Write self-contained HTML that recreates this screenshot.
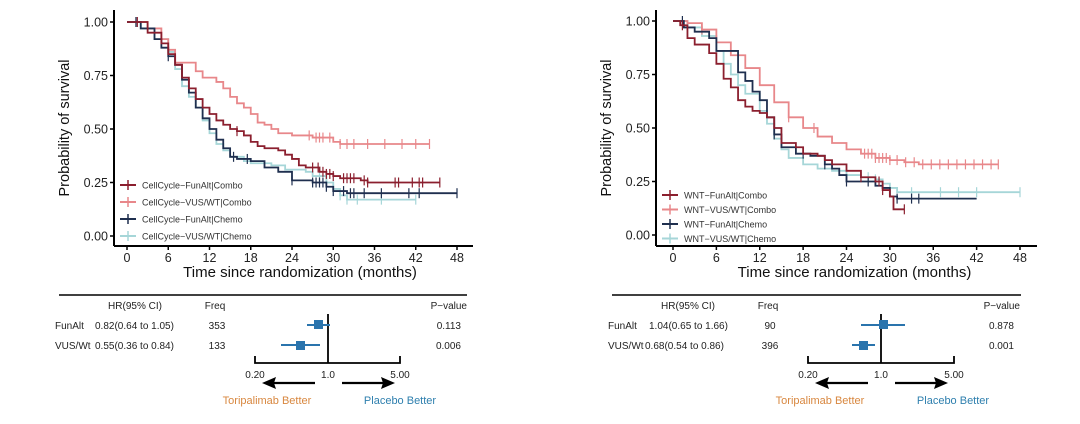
<!DOCTYPE html>
<html><head><meta charset="utf-8"><style>
html,body{margin:0;padding:0;background:#fff;}
svg{display:block;font-family:"Liberation Sans",Arial,sans-serif;}
</style></head><body>
<svg id="s" width="1080" height="424" viewBox="0 0 1080 424" xmlns="http://www.w3.org/2000/svg">
<rect width="1080" height="424" fill="#fff"/>
<g id="g"></g>
<g font-size="10" fill="#222">
<line x1="59" y1="295" x2="467" y2="295" stroke="#000" stroke-width="1.6"/>
<text x="135" y="309" text-anchor="middle">HR(95% CI)</text>
<text x="215" y="309" text-anchor="middle">Freq</text>
<text x="467" y="309" text-anchor="end">P−value</text>
<text x="55" y="329">FunAlt</text><text x="95" y="329">0.82(0.64 to 1.05)</text>
<text x="217" y="329" text-anchor="middle">353</text><text x="461" y="329" text-anchor="end">0.113</text>
<text x="55" y="349">VUS/Wt</text><text x="95" y="349">0.55(0.36 to 0.84)</text>
<text x="217" y="349" text-anchor="middle">133</text><text x="461" y="349" text-anchor="end">0.006</text>
<line x1="328" y1="314" x2="328" y2="363" stroke="#000" stroke-width="1.8"/>
<path d="M255,356V363H400V356" fill="none" stroke="#000" stroke-width="1.8"/>
<line x1="307" y1="325" x2="330" y2="325" stroke="#2a74ad" stroke-width="2"/>
<rect x="314" y="320" width="9" height="9" fill="#2a74ad"/>
<line x1="281" y1="345" x2="320" y2="345" stroke="#2a74ad" stroke-width="2"/>
<rect x="296" y="341" width="9" height="9" fill="#2a74ad"/>
<text x="255" y="378" text-anchor="middle">0.20</text>
<text x="328" y="378" text-anchor="middle">1.0</text>
<text x="400" y="378" text-anchor="middle">5.00</text>
<line x1="315" y1="383" x2="272" y2="383" stroke="#000" stroke-width="2.2"/><path d="M262,383L276,377L274,383L276,389Z" fill="#000"/>
<line x1="342" y1="383" x2="385" y2="383" stroke="#000" stroke-width="2.2"/><path d="M395,383L381,377L383,383L381,389Z" fill="#000"/>
<text x="267" y="404" text-anchor="middle" font-size="11" fill="#d8873f">Toripalimab Better</text>
<text x="400" y="404" text-anchor="middle" font-size="11" fill="#2e7fae">Placebo Better</text>
</g>
<g font-size="10" fill="#222">
<line x1="612" y1="295" x2="1021" y2="295" stroke="#000" stroke-width="1.6"/>
<text x="688" y="309" text-anchor="middle">HR(95% CI)</text>
<text x="768" y="309" text-anchor="middle">Freq</text>
<text x="1020" y="309" text-anchor="end">P−value</text>
<text x="608" y="329">FunAlt</text><text x="649" y="329">1.04(0.65 to 1.66)</text>
<text x="770" y="329" text-anchor="middle">90</text><text x="1014" y="329" text-anchor="end">0.878</text>
<text x="608" y="349">VUS/Wt</text><text x="645" y="349">0.68(0.54 to 0.86)</text>
<text x="770" y="349" text-anchor="middle">396</text><text x="1014" y="349" text-anchor="end">0.001</text>
<line x1="881" y1="314" x2="881" y2="363" stroke="#000" stroke-width="1.8"/>
<path d="M808,356V363H954V356" fill="none" stroke="#000" stroke-width="1.8"/>
<line x1="861" y1="325" x2="905" y2="325" stroke="#2a74ad" stroke-width="2"/>
<rect x="879" y="320" width="9" height="9" fill="#2a74ad"/>
<line x1="852" y1="345" x2="875" y2="345" stroke="#2a74ad" stroke-width="2"/>
<rect x="859" y="341" width="9" height="9" fill="#2a74ad"/>
<text x="808" y="378" text-anchor="middle">0.20</text>
<text x="881" y="378" text-anchor="middle">1.0</text>
<text x="954" y="378" text-anchor="middle">5.00</text>
<line x1="868" y1="383" x2="825" y2="383" stroke="#000" stroke-width="2.2"/><path d="M815,383L829,377L827,383L829,389Z" fill="#000"/>
<line x1="895" y1="383" x2="938" y2="383" stroke="#000" stroke-width="2.2"/><path d="M948,383L934,377L936,383L934,389Z" fill="#000"/>
<text x="820" y="404" text-anchor="middle" font-size="11" fill="#d8873f">Toripalimab Better</text>
<text x="953" y="404" text-anchor="middle" font-size="11" fill="#2e7fae">Placebo Better</text>
</g>
</svg>
<script>
var NS="http://www.w3.org/2000/svg",G=document.getElementById("g");
function el(t,a,txt){var e=document.createElementNS(NS,t);for(var k in a)e.setAttribute(k,a[k]);if(txt!=null)e.textContent=txt;G.appendChild(e);return e;}
var C=["#8b1f2e","#e8878a","#1f2f4f","#a6d6d8"];
function plot(o){
 var X=function(t){return o.x0+t*(o.x48-o.x0)/48},Y=function(s){return o.y0-s*(o.y0-o.y1)};
 [3,1,2,0].forEach(function(i){
  var p=o.c[i],d="M"+X(p[0][0])+","+Y(p[0][1]);
  for(var j=1;j<p.length;j++){d+="H"+X(p[j][0])+"V"+Y(p[j][1]);}
  el("path",{d:d,fill:"none",stroke:C[i],"stroke-width":1.8});
  o.k[i].forEach(function(t){var s=1;for(var j=0;j<p.length;j++){if(p[j][0]<=t)s=p[j][1];}
   el("line",{x1:X(t),x2:X(t),y1:Y(s)-5,y2:Y(s)+5,stroke:C[i],"stroke-width":1.2});});
 });
 el("line",{x1:o.ax,y1:10,x2:o.ax,y2:o.by,stroke:"#000","stroke-width":2});
 el("line",{x1:o.ax,y1:o.by,x2:o.bx,y2:o.by,stroke:"#000","stroke-width":2});
 [0,.25,.5,.75,1].forEach(function(v){el("line",{x1:o.ax-4,x2:o.ax,y1:Y(v),y2:Y(v),stroke:"#000","stroke-width":1.5});
  el("text",{x:o.ax-6,y:Y(v)+4.5,"text-anchor":"end","font-size":12.5,fill:"#222"},v.toFixed(2));});
 for(var t=0;t<=48;t+=6){el("line",{x1:X(t),x2:X(t),y1:o.by,y2:o.by+4,stroke:"#000","stroke-width":1.5});
  el("text",{x:X(t),y:o.by+16,"text-anchor":"middle","font-size":12.5,fill:"#222"},t);}
 el("text",{x:(o.x0+o.x48)/2+8,y:o.by+31,"text-anchor":"middle","font-size":15,fill:"#111"},"Time since randomization (months)");
 el("text",{x:0,y:0,transform:"translate("+(o.ax-45)+",128) rotate(-90)","text-anchor":"middle","font-size":14.5,fill:"#111"},"Probability of survival");
 o.L.forEach(function(n,i){var y=o.ly+i*o.ls;
  el("line",{x1:o.ax+6,x2:o.ax+22,y1:y,y2:y,stroke:C[i],"stroke-width":2});
  el("line",{x1:o.ax+14,x2:o.ax+14,y1:y-5,y2:y+5,stroke:C[i],"stroke-width":1.5});
  el("text",{x:o.ax+28,y:y+3.5,"font-size":9,fill:"#333"},n);});
}
function rng(a,b,n){var r=[];for(var i=0;i<n;i++)r.push(a+(b-a)*i/(n-1));return r;}
plot({ax:114,by:246,bx:473,x0:127,x48:457,y1:22,y0:236,ly:185,ls:17,
 L:["CellCycle−FunAlt|Combo","CellCycle−VUS/WT|Combo","CellCycle−FunAlt|Chemo","CellCycle−VUS/WT|Chemo"],
 c:[
 [[0,1],[1,1],[3,.95],[5,.9],[6,.85],[7,.8],[8,.74],[9,.69],[10,.64],[11,.6],[12,.57],[13,.54],[14,.52],[15,.5],[16,.49],[17,.47],[18,.44],[19,.42],[20,.41],[22,.4],[23,.38],[24,.36],[25,.33],[26,.32],[28,.3],[29,.29],[30,.28],[31,.27],[34,.26],[35,.25],[45.5,.25]],
 [[0,1],[2,1],[3,.97],[5,.92],[6,.87],[7,.81],[9,.81],[10,.77],[11,.74],[13,.72],[14,.69],[15,.65],[16,.62],[17,.6],[18,.57],[19,.53],[20,.52],[21,.5],[22,.48],[24,.47],[27,.46],[30,.44],[31,.43],[44,.43]],
 [[0,1],[2,.97],[4,.92],[5,.88],[6,.84],[7,.8],[8,.73],[9,.67],[10,.6],[11,.55],[12,.5],[13,.45],[14,.41],[15,.37],[16,.36],[18,.35],[20,.32],[22,.3],[24,.26],[27,.25],[29,.23],[30,.21],[32,.2],[48,.2]],
 [[0,1],[2,.97],[4,.92],[6,.86],[7,.78],[8,.7],[9,.65],[10,.6],[11,.54],[12,.48],[13,.43],[14,.4],[15,.37],[17,.35],[18,.34],[21,.33],[23,.31],[26,.3],[27,.28],[29,.25],[30,.22],[31,.19],[32,.17],[37,.17],[42,.17]]],
 k:[[1.5,16,27,27.8,28.5,29,29.5,30,31.5,32,32.5,33,34.5,35,39,39.5,41.5,42.5,43,45.5],[26.5,27.5,28,28.5,29.5,31,32,33,35,37.5,40,42,44],[1.3,6,15.5,17.5,24,27,27.5,28,28.5,29,30,31.5,32.5,33,34.5,37,41,42.5,48],[28,29,31,32,33.5,37,42]]
});
plot({ax:656,by:246,bx:1037,x0:673,x48:1020,y1:21,y0:235,ly:195,ls:14.5,
 L:["WNT−FunAlt|Combo","WNT−VUS/WT|Combo","WNT−FunAlt|Chemo","WNT−VUS/WT|Chemo"],
 c:[
 [[0,1],[1,.98],[2,.92],[3,.89],[5,.85],[6,.8],[7,.73],[8,.69],[9,.63],[10,.6],[11,.58],[12,.57],[13,.55],[14,.5],[15,.43],[17,.41],[18,.38],[20,.37],[21,.35],[22,.33],[24,.3],[26,.27],[28,.25],[29,.21],[30,.18],[30.5,.12],[32,.12]],
 [[0,1],[2,.99],[4,.96],[6,.9],[8,.84],[10,.78],[12,.7],[14,.62],[16,.55],[18,.5],[20,.46],[22,.43],[24,.4],[26,.38],[28,.36],[30,.35],[32,.34],[34,.33],[45,.33]],
 [[0,1],[1.5,.97],[3,.95],[5,.92],[6,.86],[8,.86],[9,.76],[10,.72],[11,.67],[12,.63],[13,.55],[14,.47],[15,.41],[17,.38],[19,.37],[21,.33],[22,.31],[23,.28],[24,.25],[27,.25],[28,.23],[29,.22],[30,.18],[31,.17],[42,.17]],
 [[0,1],[2,.97],[4,.93],[6,.86],[7,.8],[8,.75],[9,.7],[10,.66],[12,.58],[13,.52],[14,.45],[15,.4],[16,.36],[18,.33],[20,.31],[22,.3],[24,.28],[26,.27],[28,.26],[29,.24],[30,.22],[31,.2],[48,.2]]],
 k:[[1.3,26,28.5,29,32],[4,16,19.5].concat(rng(26.5,30,8)).concat(rng(31,44,12)).concat([45]),[1.3,14,18,21,24,27,31,33,34],[27,28,30,33,37,39.5,42,48]]
});
</script>
</body></html>
